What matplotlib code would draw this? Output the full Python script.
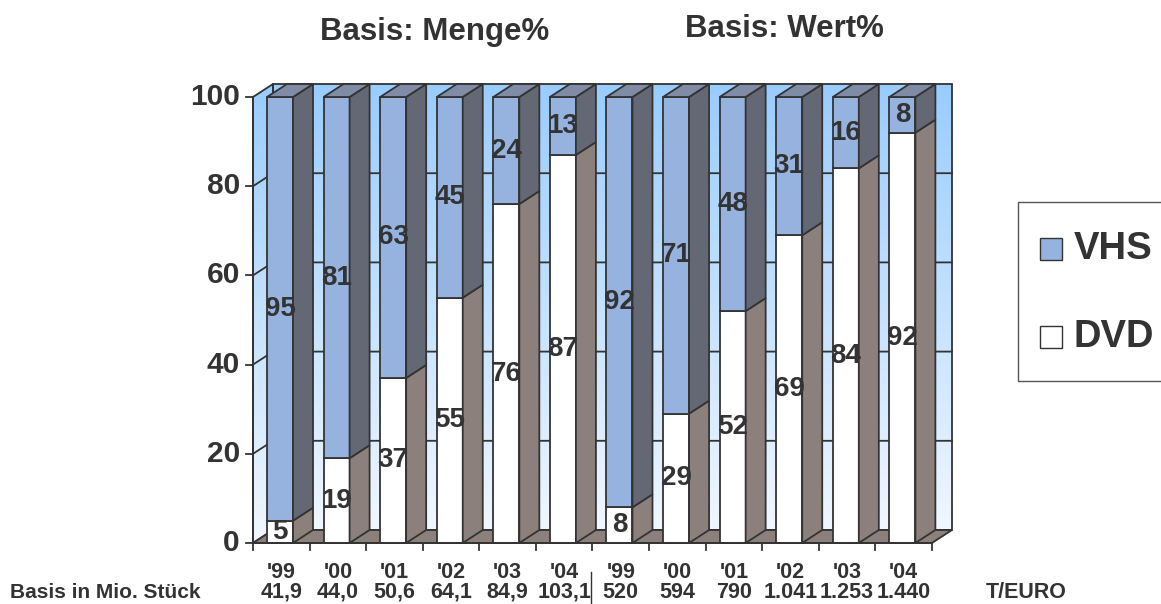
import numpy as np
import matplotlib.pyplot as plt
from matplotlib.patches import Polygon, Rectangle

plt.rcParams['font.family'] = ['Liberation Sans', 'DejaVu Sans']

# Anteile in Prozent: links Menge, rechts Wert
years = ["'99", "'00", "'01", "'02", "'03", "'04",
         "'99", "'00", "'01", "'02", "'03", "'04"]
dvd = [5, 19, 37, 55, 76, 87, 8, 29, 52, 69, 84, 92]
vhs = [95, 81, 63, 45, 24, 13, 92, 71, 48, 31, 16, 8]
basis = ["41,9", "44,0", "50,6", "64,1", "84,9", "103,1",
         "520", "594", "790", "1.041", "1.253", "1.440"]
yticks = [0, 20, 40, 60, 80, 100]

TXT = '#333333'
EDGE = '#333333'
VHS_FRONT = '#95B3DE'
VHS_SIDE = '#636874'
VHS_TOP = '#808CA6'
DVD_FRONT = '#FFFFFF'
DVD_SIDE = '#8C807C'
FLOOR = '#8C807C'

W, H = 1161, 604
fig = plt.figure(figsize=(W / 100, H / 100), dpi=100)

# pixel scale of the plot box
px_x, px_y = 56.58, 4.46
ox, oy = 253, 543
xlim = (-0.1, 12.5)
ylim = (-1, 104)
left = ox + xlim[0] * px_x
right = ox + xlim[1] * px_x
bottom = oy - ylim[0] * px_y
top = oy - ylim[1] * px_y
ax = fig.add_axes([left / W, 1 - bottom / H, (right - left) / W, (bottom - top) / H])
ax.set_xlim(*xlim)
ax.set_ylim(*ylim)
ax.axis('off')

n = len(dvd)
dx = 20 / px_x   # depth offset
dy = 13 / px_y
bx = 14 / px_x   # bar inset within category
bw = 26 / px_x   # bar front width
lw = 1.3

# back wall with vertical gradient
grad = np.linspace(0, 1, 256).reshape(-1, 1)
c_top = np.array([153, 204, 255]) / 255
c_bot = np.array([240, 247, 255]) / 255
img = c_bot + (c_top - c_bot) * grad
img = img.reshape(256, 1, 3)
ax.imshow(img, extent=(dx, n + dx, dy, 100 + dy), origin='lower',
          aspect='auto', zorder=0)
ax.add_patch(Rectangle((dx, dy), n, 100, fill=False, ec=EDGE, lw=lw, zorder=1))

# side wall
side = Polygon([(0, 0), (0, 100), (dx, 100 + dy), (dx, dy)], closed=True,
               fc='none', ec=EDGE, lw=lw, zorder=1)
ax.add_patch(side)
im2 = ax.imshow(img, extent=(0, dx, 0, 100 + dy), origin='lower',
                aspect='auto', zorder=0.5)
im2.set_clip_path(side)

# gridlines on both walls
for v in yticks[1:-1]:
    ax.plot([0, dx, n + dx], [v, v + dy, v + dy], color=EDGE, lw=lw, zorder=1)

# floor
ax.add_patch(Polygon([(0, 0), (n, 0), (n + dx, dy), (dx, dy)], closed=True,
                     fc=FLOOR, ec=EDGE, lw=lw, zorder=1))

# stacked 3d bars
for i in range(n):
    x0 = i + bx
    x1 = x0 + bw
    segs = [(0, dvd[i], DVD_FRONT, DVD_SIDE),
            (dvd[i], dvd[i] + vhs[i], VHS_FRONT, VHS_SIDE)]
    for lo, hi, fc, sc in segs:
        ax.add_patch(Rectangle((x0, lo), bw, hi - lo, fc=fc, ec=EDGE,
                               lw=lw, zorder=2))
        ax.add_patch(Polygon([(x1, lo), (x1 + dx, lo + dy), (x1 + dx, hi + dy),
                              (x1, hi)], closed=True, fc=sc, ec=EDGE,
                             lw=lw, zorder=2))
    t = dvd[i] + vhs[i]
    ax.add_patch(Polygon([(x0, t), (x1, t), (x1 + dx, t + dy), (x0 + dx, t + dy)],
                         closed=True, fc=VHS_TOP, ec=EDGE, lw=lw, zorder=2))
    # value labels
    xc = x0 + bw / 2
    ax.text(xc, dvd[i] / 2, str(dvd[i]), ha='center', va='center',
            fontsize=20, fontweight='bold', color=TXT, zorder=3)
    ax.text(xc, dvd[i] + vhs[i] / 2, str(vhs[i]), ha='center', va='center',
            fontsize=20, fontweight='bold', color=TXT, zorder=3)

# axes lines and ticks
ax.plot([0, n], [0, 0], color=EDGE, lw=lw, zorder=3)
ax.plot([0, 0], [0, 100], color=EDGE, lw=lw, zorder=3)
for i in range(n + 1):
    ax.plot([i, i], [0, -1.6], color=EDGE, lw=lw, zorder=3, clip_on=False)
for v in yticks:
    ax.plot([-0.12, 0], [v, v], color=EDGE, lw=lw, zorder=3, clip_on=False)
    ax.text(-0.23, v, str(v), ha='right', va='center', fontsize=21.5,
            fontweight='bold', color=TXT)

# category labels and base values
row1 = (oy - 572) / px_y
row2 = (oy - 592) / px_y
for i in range(n):
    ax.text(i + 0.5, row1, years[i], ha='center', va='center', fontsize=15.5,
            fontweight='bold', color=TXT, clip_on=False)
    ax.text(i + 0.5, row2, basis[i], ha='center', va='center', fontsize=15.5,
            fontweight='bold', color=TXT, clip_on=False)
ax.text((10 - ox) / px_x, row2, 'Basis in Mio. Stück', ha='left', va='center',
        fontsize=15, fontweight='bold', color=TXT, clip_on=False)
ax.text((1026 - ox) / px_x, row2, 'T/EURO', ha='center', va='center',
        fontsize=15.5, fontweight='bold', color=TXT, clip_on=False)
ax.plot([(591 - ox) / px_x] * 2, [(oy - 572) / px_y, (oy - 610) / px_y],
        color=EDGE, lw=1.0, clip_on=False)

# section titles
fig.text(435 / W, 1 - 32 / H, 'Basis: Menge%', ha='center', va='center',
         fontsize=22.5, fontweight='bold', color=TXT)
fig.text(784 / W, 1 - 29 / H, 'Basis: Wert%', ha='center', va='center',
         fontsize=22.5, fontweight='bold', color=TXT)

# legend box
fig.patches.append(Rectangle((1018 / W, 1 - 381 / H), 160 / W, 179 / H,
                             transform=fig.transFigure, fc='white',
                             ec='#555555', lw=1.0))
for label, fc, yc in [('VHS', VHS_FRONT, 249), ('DVD', DVD_FRONT, 337)]:
    fig.patches.append(Rectangle((1040 / W, 1 - (yc + 11) / H), 22 / W, 22 / H,
                                 transform=fig.transFigure, fc=fc,
                                 ec=EDGE, lw=1.0))
    fig.text(1074 / W, 1 - yc / H, label, ha='left', va='center',
             fontsize=27.5, fontweight='bold', color=TXT)

fig.savefig('out.png', dpi=100)
